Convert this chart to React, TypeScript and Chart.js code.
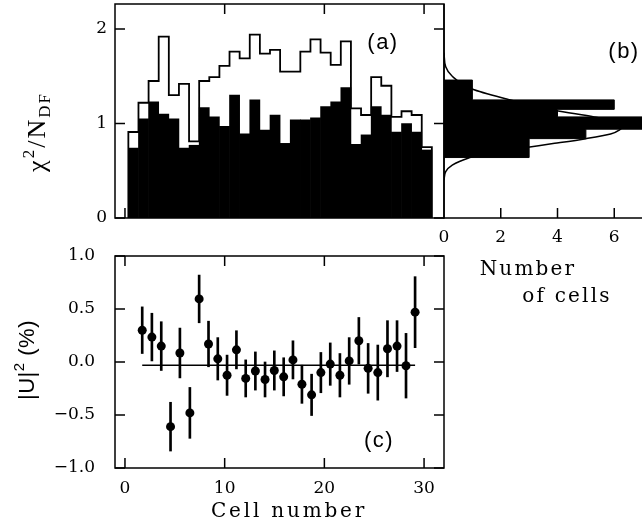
import React, { useEffect, useRef } from "react";
import { Chart, registerables } from "chart.js";

Chart.register(...registerables);

// ---------------- Panel (a): chi^2 / N_DF per cell ----------------
const cellIndex = [1, 2, 3, 4, 5, 6, 7, 8, 9, 10, 11, 12, 13, 14, 15, 16, 17, 18, 19, 20, 21, 22, 23, 24, 25, 26, 27, 28, 29, 30];
const chiSelected = [0.74, 1.05, 1.23, 1.1, 1.05, 0.74, 0.77, 1.17, 1.07, 0.97, 1.3, 0.89, 1.25, 0.93, 1.09, 0.79, 1.04, 1.04, 1.06, 1.18, 1.23, 1.38, 0.78, 0.88, 1.18, 1.09, 0.91, 1.0, 0.91, 0.72];
const chiAll = [0.91, 1.22, 1.45, 1.92, 1.3, 1.42, 0.81, 1.45, 1.49, 1.61, 1.76, 1.69, 1.94, 1.74, 1.78, 1.55, 1.55, 1.76, 1.89, 1.75, 1.62, 1.87, 1.16, 1.09, 1.49, 1.4, 1.07, 1.13, 1.09, 0.75];
const chiTickValues = [0, 1, 2];
const chiTickLabels = ["0", "1", "2"];
const cellTickValues = [0, 10, 20, 30];
const cellTickLabels = ["0", "10", "20", "30"];

// ---------------- Panel (b): distribution of chi^2 / N_DF ----------------
const chiBinEdges = [0.64, 0.84, 0.94, 1.07, 1.15, 1.25, 1.46];
const chiBinCounts = [3, 5, 7, 4, 6, 1];
const fitChi = [0.4, 0.49, 0.56, 0.635, 0.69, 0.75, 0.79, 0.84, 0.89, 0.94, 1.0, 1.07, 1.14, 1.26, 1.365, 1.5, 1.6, 1.75];
const fitCount = [0, 0.06, 0.29, 0.87, 1.57, 2.96, 3.9, 5.0, 5.87, 6.22, 6.4, 5.29, 3.9, 2.21, 0.99, 0.29, 0.06, 0];
const countTickValues = [0, 2, 4, 6, 8];
const countTickLabels = ["0", "2", "4", "6", "8"];

// ---------------- Panel (c): |U|^2 per cell ----------------
const cellX = [1.73, 2.7, 3.64, 4.57, 5.51, 6.51, 7.44, 8.38, 9.31, 10.24, 11.18, 12.11, 13.08, 14.05, 14.98, 15.92, 16.85, 17.75, 18.72, 19.65, 20.59, 21.56, 22.49, 23.46, 24.39, 25.36, 26.33, 27.29, 28.19, 29.1];
const uValues = [0.3, 0.235, 0.15, -0.61, 0.085, -0.48, 0.595, 0.17, 0.03, -0.125, 0.115, -0.155, -0.085, -0.165, -0.08, -0.14, 0.02, -0.21, -0.31, -0.1, -0.02, -0.125, 0.01, 0.2, -0.06, -0.1, 0.125, 0.15, -0.035, 0.47];
const uErrors = [0.22, 0.225, 0.23, 0.23, 0.235, 0.24, 0.225, 0.215, 0.2, 0.19, 0.18, 0.175, 0.18, 0.165, 0.185, 0.18, 0.18, 0.18, 0.195, 0.19, 0.2, 0.205, 0.22, 0.22, 0.235, 0.26, 0.265, 0.24, 0.305, 0.335];
const uMean = -0.03;
const uTickValues = [-1, -0.5, 0, 0.5, 1];
const uTickLabels = ["\u22121.0", "\u22120.5", "0.0", "0.5", "1.0"];

const SERIF = "'DejaVu Serif', serif";
const TL = 10; // inner tick length
const tickFont = { family: SERIF, size: 17 };

function drawRich(ctx: any, parts: any[], x: number, y: number, rotate: boolean, spacing: string) {
  ctx.save();
  ctx.translate(x, y);
  if (rotate) ctx.rotate(-Math.PI / 2);
  ctx.textAlign = "left";
  ctx.textBaseline = "alphabetic";
  ctx.fillStyle = "#000";
  ctx.letterSpacing = spacing;
  let total = 0;
  const widths = parts.map((p) => {
    ctx.font = p.font;
    const w = ctx.measureText(p.text).width;
    total += w;
    return w;
  });
  let cx = -total / 2;
  parts.forEach((p, i) => {
    ctx.font = p.font;
    ctx.fillText(p.text, cx, p.dy);
    cx += widths[i];
  });
  ctx.restore();
}

function zeroPad(s: any) {
  s.paddingTop = 0;
  s.paddingBottom = 0;
  s.paddingLeft = 0;
  s.paddingRight = 0;
}

const panelAPlugin = {
  id: "panelA",
  afterDraw(chart: any) {
    const { ctx, chartArea: a } = chart;
    const y = chart.scales.y;
    const xc = chart.scales.xc;
    ctx.save();
    ctx.strokeStyle = "#000";
    ctx.lineWidth = 1.5;
    ctx.strokeRect(a.left, a.top, a.right - a.left, a.bottom - a.top);
    ctx.beginPath();
    chiTickValues.forEach((v) => {
      const p = y.getPixelForValue(v);
      ctx.moveTo(a.left, p);
      ctx.lineTo(a.left + TL, p);
      ctx.moveTo(a.right, p);
      ctx.lineTo(a.right - TL, p);
    });
    cellTickValues.forEach((v) => {
      const p = xc.getPixelForValue(v);
      ctx.moveTo(p, a.bottom);
      ctx.lineTo(p, a.bottom - TL);
      if (v > 0) {
        ctx.moveTo(p, a.top);
        ctx.lineTo(p, a.top + TL);
      }
    });
    ctx.stroke();
    ctx.restore();
    drawRich(
      ctx,
      [
        { text: "\u03c7", font: "26px 'Liberation Serif'", dy: 0 },
        { text: "2", font: "17px 'Liberation Serif'", dy: -11 },
        { text: "/N", font: "26px 'Liberation Serif'", dy: 0 },
        { text: "DF", font: "17px 'Liberation Serif'", dy: 5 },
      ],
      a.left - 70,
      a.top + 128,
      true,
      "2px"
    );
    drawRich(ctx, [{ text: "(a)", font: "22px 'Liberation Sans'", dy: 0 }], a.left + 268, a.top + 45, false, "1.5px");
  },
};

const panelBPlugin = {
  id: "panelB",
  afterDraw(chart: any) {
    const { ctx, chartArea: a } = chart;
    const x = chart.scales.x;
    ctx.save();
    ctx.strokeStyle = "#000";
    ctx.lineWidth = 1.5;
    ctx.beginPath();
    ctx.moveTo(a.left, a.top);
    ctx.lineTo(a.left, a.bottom);
    ctx.lineTo(a.right, a.bottom);
    countTickValues.forEach((v) => {
      if (v <= 0) return;
      const p = x.getPixelForValue(v);
      ctx.moveTo(p, a.bottom);
      ctx.lineTo(p, a.bottom - TL);
    });
    ctx.stroke();
    ctx.restore();
    drawRich(ctx, [{ text: "Number", font: "20px " + SERIF, dy: 0 }], a.left + 84, 275, false, "2.2px");
    drawRich(ctx, [{ text: "of cells", font: "20px " + SERIF, dy: 0 }], a.left + 123, 302, false, "2.2px");
    drawRich(ctx, [{ text: "(b)", font: "22px 'Liberation Sans'", dy: 0 }], a.left + 180, a.top + 54, false, "1.5px");
  },
};

const panelCPlugin = {
  id: "panelC",
  afterDraw(chart: any) {
    const { ctx, chartArea: a } = chart;
    const x = chart.scales.x;
    const y = chart.scales.y;
    ctx.save();
    ctx.strokeStyle = "#000";
    ctx.lineWidth = 1.5;
    ctx.strokeRect(a.left, a.top, a.right - a.left, a.bottom - a.top);
    ctx.beginPath();
    uTickValues.forEach((v) => {
      const p = y.getPixelForValue(v);
      ctx.moveTo(a.left, p);
      ctx.lineTo(a.left + TL, p);
      ctx.moveTo(a.right, p);
      ctx.lineTo(a.right - TL, p);
    });
    cellTickValues.forEach((v) => {
      const p = x.getPixelForValue(v);
      ctx.moveTo(p, a.bottom);
      ctx.lineTo(p, a.bottom - TL);
      ctx.moveTo(p, a.top);
      ctx.lineTo(p, a.top + TL);
    });
    ctx.stroke();
    ctx.restore();
    drawRich(
      ctx,
      [
        { text: "|U|", font: "22px 'Liberation Sans'", dy: 0 },
        { text: "2", font: "15px 'Liberation Sans'", dy: -10 },
        { text: " (%)", font: "22px 'Liberation Sans'", dy: 0 },
      ],
      a.left - 81,
      a.top + 104,
      true,
      "0.5px"
    );
    drawRich(ctx, [{ text: "Cell number", font: "20px " + SERIF, dy: 0 }], a.left + 174, a.bottom + 49, false, "2.8px");
    drawRich(ctx, [{ text: "(c)", font: "22px 'Liberation Sans'", dy: 0 }], a.left + 264, a.top + 191, false, "1.5px");
  },
};

function configA(): any {
  const outline: any[] = [];
  cellIndex.forEach((c, i) => {
    if (i === 0) outline.push({ x: c - 0.5, y: 0 });
    outline.push({ x: c - 0.5, y: chiAll[i] }, { x: c + 0.5, y: chiAll[i] });
    if (i === cellIndex.length - 1) outline.push({ x: c + 0.5, y: 0 });
  });
  return {
    type: "bar",
    data: {
      datasets: [
        {
          type: "bar",
          label: "selected",
          data: cellIndex.map((c, i) => ({ x: c, y: chiSelected[i] })),
          backgroundColor: "#000",
          borderWidth: 0,
          barPercentage: 1,
          categoryPercentage: 1,
          xAxisID: "x",
          yAxisID: "y",
          order: 2,
        },
        {
          type: "line",
          label: "all",
          data: outline,
          borderColor: "#000",
          borderWidth: 1.8,
          pointRadius: 0,
          fill: false,
          tension: 0,
          xAxisID: "x",
          yAxisID: "y",
          order: 1,
        },
      ],
    },
    options: {
      responsive: false,
      animation: false,
      devicePixelRatio: 1,
      layout: { padding: { left: 0, top: 4, right: 6, bottom: 10 } },
      plugins: { legend: { display: false }, tooltip: { enabled: false } },
      scales: {
        x: { type: "linear", display: false, min: -0.82, max: 31.7, offset: false },
        xc: { type: "linear", axis: "x", position: "bottom", display: false, min: -1, max: 32, offset: false },
        y: {
          type: "linear",
          position: "left",
          min: 0,
          max: 2.265,
          grid: { display: false, drawTicks: false },
          border: { display: false },
          afterBuildTicks: (s: any) => {
            s.ticks = chiTickValues.map((v) => ({ value: v }));
          },
          afterFit: (s: any) => {
            s.width = 115;
            zeroPad(s);
          },
          ticks: { padding: 8, color: "#000", font: tickFont, callback: (_v: any, i: number) => chiTickLabels[i] },
        },
      },
    },
    plugins: [panelAPlugin],
  };
}

function configB(): any {
  const hist: any[] = [{ x: 0, y: chiBinEdges[0] }];
  chiBinCounts.forEach((c, i) => {
    hist.push({ x: c, y: chiBinEdges[i] }, { x: c, y: chiBinEdges[i + 1] });
  });
  hist.push({ x: 0, y: chiBinEdges[chiBinEdges.length - 1] });
  return {
    type: "line",
    data: {
      datasets: [
        {
          label: "cells",
          data: hist,
          borderColor: "#000",
          borderWidth: 1,
          backgroundColor: "#000",
          fill: "origin",
          pointRadius: 0,
          tension: 0,
        },
        {
          label: "expected",
          data: fitChi.map((v, i) => ({ x: fitCount[i], y: v })),
          borderColor: "#000",
          borderWidth: 1.5,
          fill: false,
          pointRadius: 0,
          cubicInterpolationMode: "monotone",
        },
      ],
    },
    options: {
      indexAxis: "y",
      responsive: false,
      animation: false,
      devicePixelRatio: 1,
      layout: { padding: { left: 6, top: 4, right: 9, bottom: 0 } },
      plugins: { legend: { display: false }, tooltip: { enabled: false } },
      scales: {
        x: {
          type: "linear",
          position: "bottom",
          min: 0,
          max: 8,
          grid: { display: false, drawTicks: false },
          border: { display: false },
          afterBuildTicks: (s: any) => {
            s.ticks = countTickValues.map((v) => ({ value: v }));
          },
          afterFit: (s: any) => {
            s.height = 102;
            zeroPad(s);
          },
          ticks: { padding: 9, color: "#000", font: tickFont, maxRotation: 0, autoSkip: false, callback: (_v: any, i: number) => countTickLabels[i] },
        },
        y: { type: "linear", position: "left", display: false, min: 0, max: 2.265 },
      },
    },
    plugins: [panelBPlugin],
  };
}

function configC(): any {
  const last = cellX.length - 1;
  return {
    type: "scatter",
    data: {
      datasets: [
        {
          type: "bar",
          label: "error",
          data: cellX.map((x, i) => ({ x, y: [uValues[i] - uErrors[i], uValues[i] + uErrors[i]] })),
          backgroundColor: "#000",
          borderWidth: 0,
          barThickness: 2,
          order: 3,
        },
        {
          type: "line",
          label: "mean",
          data: [
            { x: cellX[0], y: uMean },
            { x: cellX[last], y: uMean },
          ],
          borderColor: "#000",
          borderWidth: 1.5,
          pointRadius: 0,
          fill: false,
          order: 2,
        },
        {
          type: "scatter",
          label: "|U|^2",
          data: cellX.map((x, i) => ({ x, y: uValues[i] })),
          pointRadius: 4.5,
          pointBackgroundColor: "#000",
          pointBorderWidth: 0,
          order: 1,
        },
      ],
    },
    options: {
      responsive: false,
      animation: false,
      devicePixelRatio: 1,
      layout: { padding: { left: 0, top: 16, right: 6, bottom: 0 } },
      plugins: { legend: { display: false }, tooltip: { enabled: false } },
      scales: {
        x: {
          type: "linear",
          position: "bottom",
          min: -1,
          max: 32,
          offset: false,
          grid: { display: false, drawTicks: false },
          border: { display: false },
          afterBuildTicks: (s: any) => {
            s.ticks = cellTickValues.map((v) => ({ value: v }));
          },
          afterFit: (s: any) => {
            s.height = 61;
            zeroPad(s);
          },
          ticks: { padding: 10, color: "#000", font: tickFont, maxRotation: 0, autoSkip: false, callback: (_v: any, i: number) => cellTickLabels[i] },
        },
        y: {
          type: "linear",
          position: "left",
          min: -1,
          max: 1,
          grid: { display: false, drawTicks: false },
          border: { display: false },
          afterBuildTicks: (s: any) => {
            s.ticks = uTickValues.map((v) => ({ value: v }));
          },
          afterFit: (s: any) => {
            s.width = 115;
            zeroPad(s);
          },
          ticks: { padding: 20, color: "#000", font: tickFont, callback: (_v: any, i: number) => uTickLabels[i] },
        },
      },
    },
    plugins: [panelCPlugin],
  };
}

export default function App() {
  const refA = useRef<HTMLCanvasElement>(null);
  const refB = useRef<HTMLCanvasElement>(null);
  const refC = useRef<HTMLCanvasElement>(null);

  useEffect(() => {
    const charts = [
      new Chart(refA.current as HTMLCanvasElement, configA()),
      new Chart(refC.current as HTMLCanvasElement, configC()),
      new Chart(refB.current as HTMLCanvasElement, configB()),
    ];
    return () => charts.forEach((c) => c.destroy());
  }, []);

  return (
    <div
      style={{
        position: "fixed",
        left: 0,
        top: 0,
        width: 642,
        height: 529,
        overflow: "hidden",
        background: "#fff",
      }}
    >
      <canvas ref={refA} width={450} height={228} style={{ position: "absolute", left: 0, top: 0, width: 450, height: 228 }} />
      <canvas ref={refC} width={450} height={289} style={{ position: "absolute", left: 0, top: 240, width: 450, height: 289 }} />
      <canvas ref={refB} width={242} height={320} style={{ position: "absolute", left: 438, top: 0, width: 242, height: 320 }} />
    </div>
  );
}
